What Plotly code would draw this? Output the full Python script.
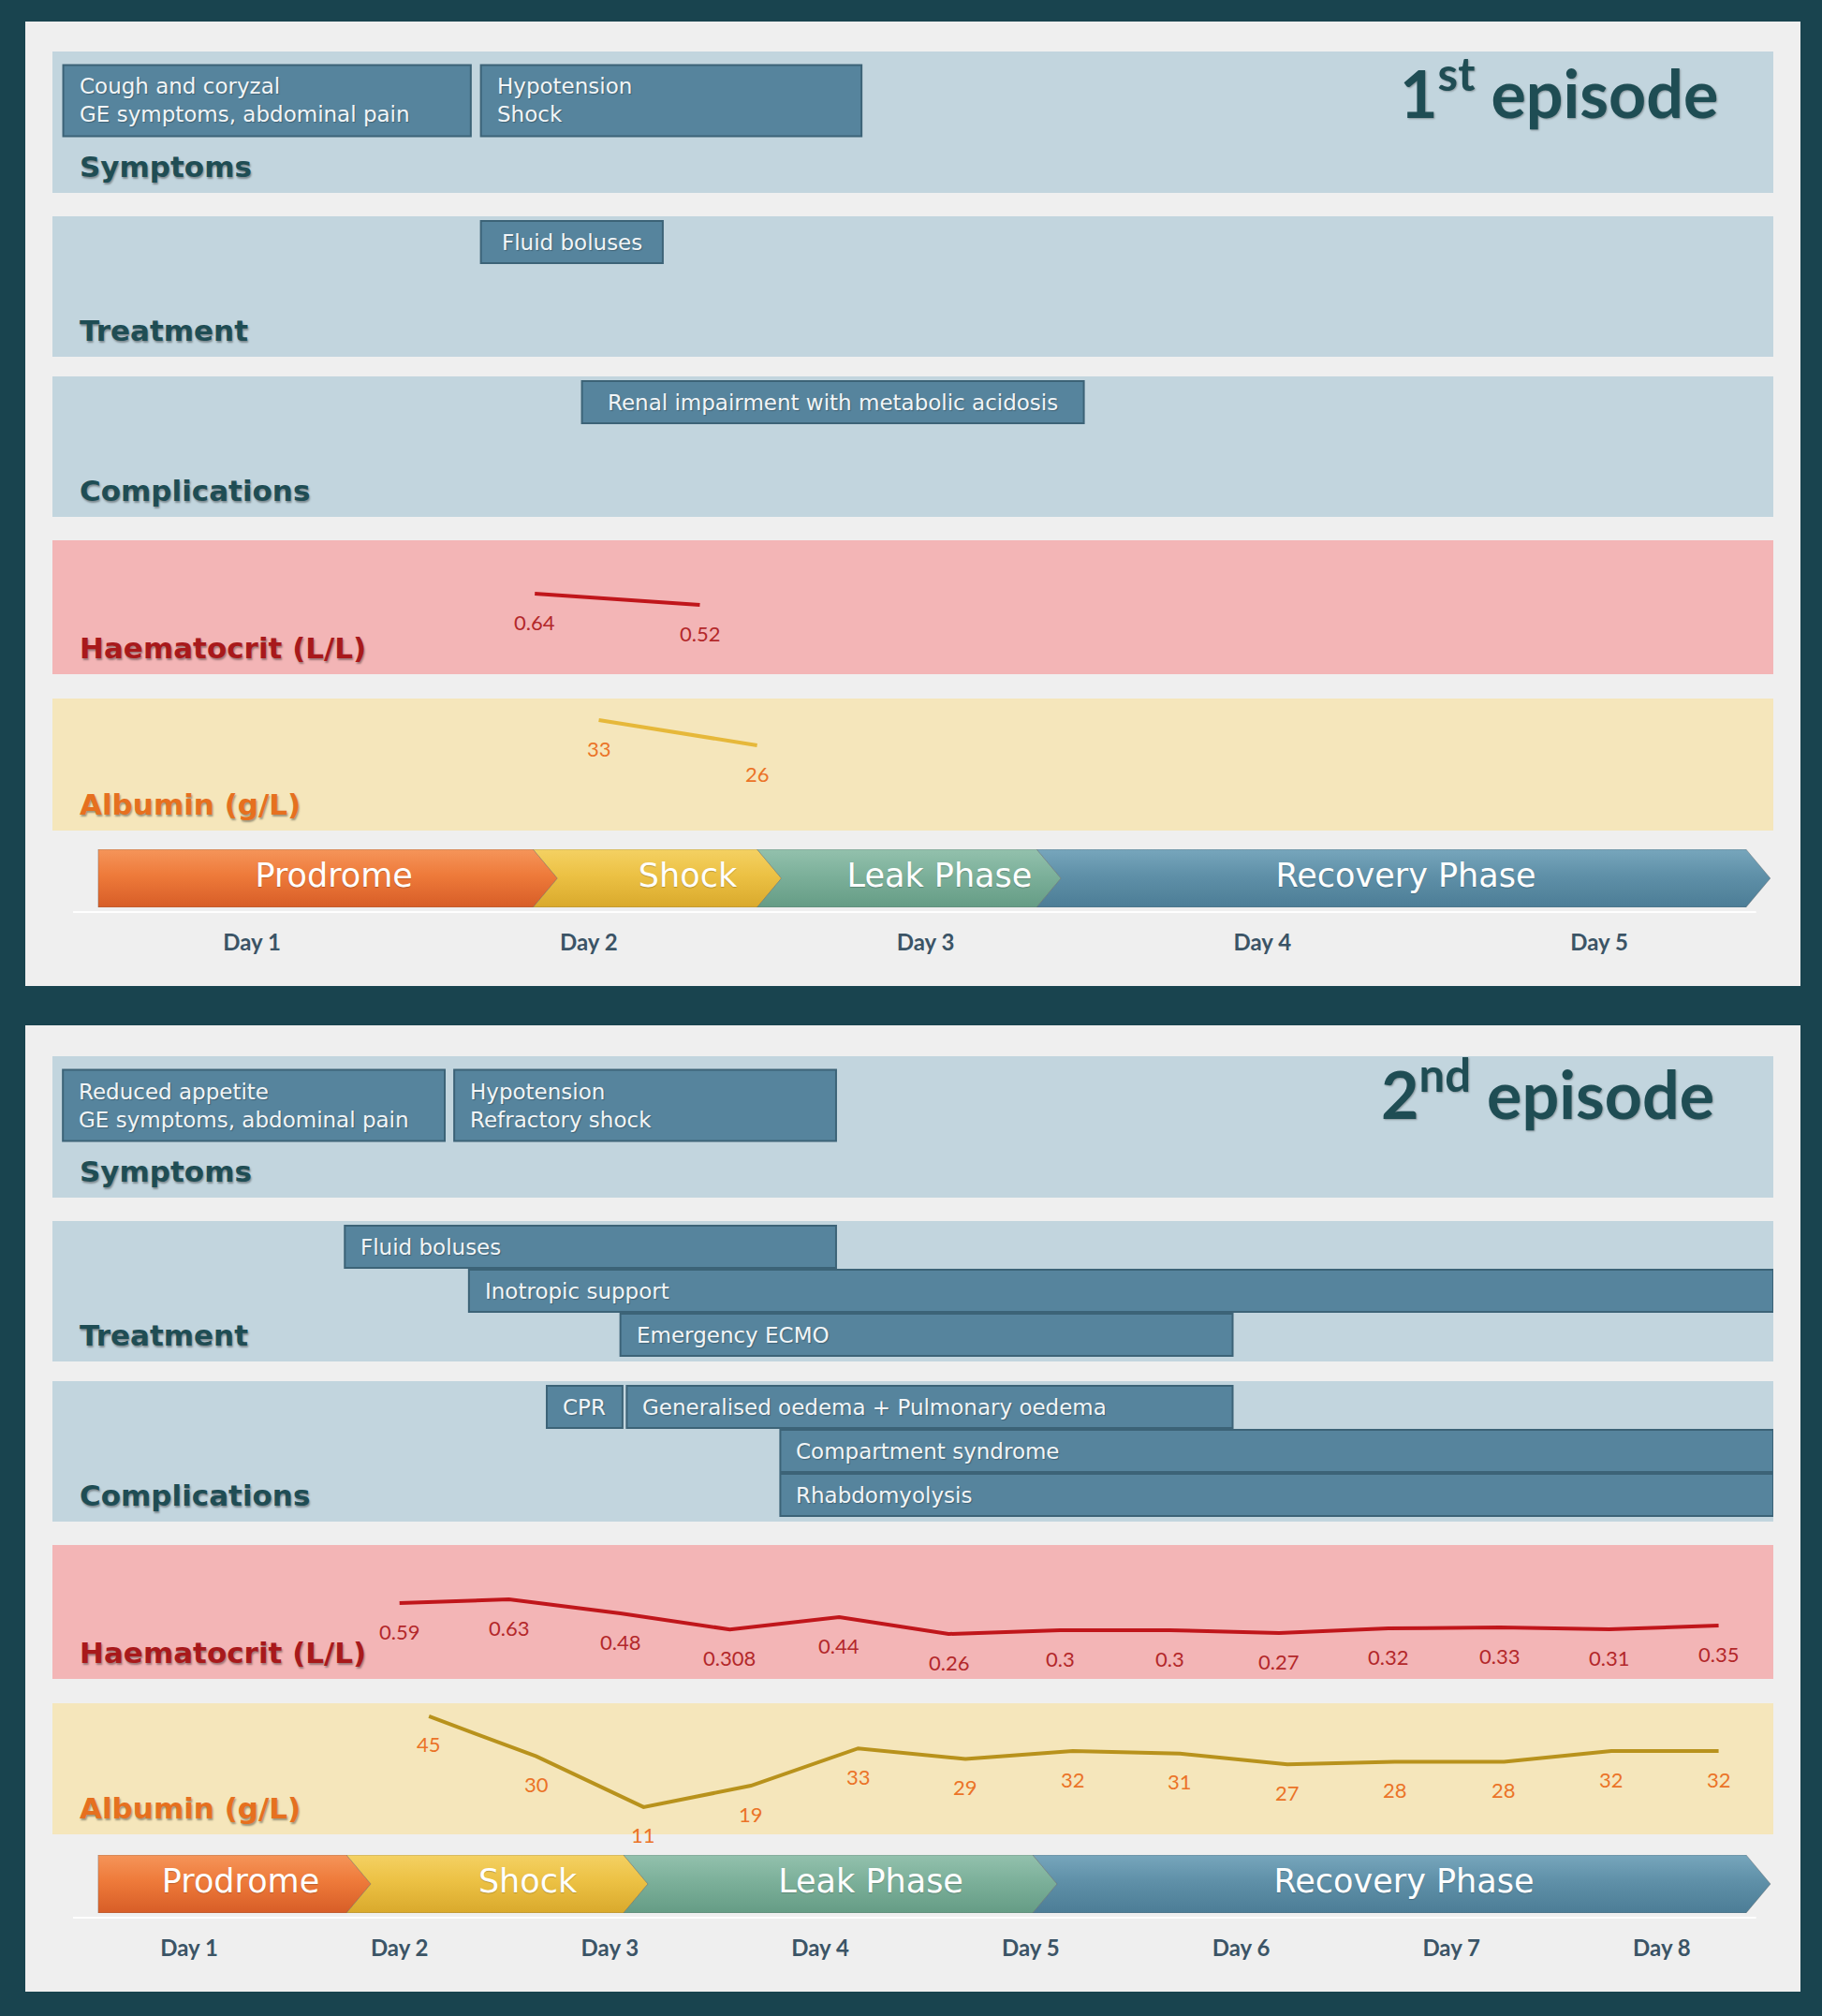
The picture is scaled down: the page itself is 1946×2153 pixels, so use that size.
import plotly.graph_objects as go

W, H = 1946, 2153

# ===================== DATA =====================
EP1_DAY_TICKS = [1, 2, 3, 4, 5]
EP1_DAY_LABELS = ["Day 1", "Day 2", "Day 3", "Day 4", "Day 5"]
EP2_DAY_TICKS = [1, 2, 3, 4, 5, 6, 7, 8]
EP2_DAY_LABELS = ["Day 1", "Day 2", "Day 3", "Day 4", "Day 5", "Day 6", "Day 7", "Day 8"]

EP1_SYMPTOMS = ["Cough and coryzal<br>GE symptoms, abdominal pain", "Hypotension<br>Shock"]
EP1_SYMPTOM_START = [0.44, 1.68]
EP1_SYMPTOM_END = [1.65, 2.81]

EP1_TREATMENTS = ["Fluid boluses"]
EP1_TREATMENT_START = [1.68]
EP1_TREATMENT_END = [2.22]
EP1_TREATMENT_ROW = [0]

EP1_COMPLICATIONS = ["Renal impairment with metabolic acidosis"]
EP1_COMPLICATION_START = [1.98]
EP1_COMPLICATION_END = [3.47]
EP1_COMPLICATION_ROW = [0]

EP1_HCT_DAY = [1.84, 2.33]
EP1_HCT = [0.64, 0.52]
EP1_ALB_DAY = [2.03, 2.50]
EP1_ALB = [33, 26]

EP1_PHASES = ["Prodrome", "Shock", "Leak Phase", "Recovery Phase"]
EP1_PHASE_START = [0.544, 1.835, 2.50, 3.33]
EP1_PHASE_END = [1.835, 2.50, 3.33, 5.436]

EP2_SYMPTOMS = ["Reduced appetite<br>GE symptoms, abdominal pain", "Hypotension<br>Refractory shock"]
EP2_SYMPTOM_START = [0.40, 2.26]
EP2_SYMPTOM_END = [2.215, 4.075]

EP2_TREATMENTS = ["Fluid boluses", "Inotropic support", "Emergency ECMO"]
EP2_TREATMENT_START = [1.74, 2.33, 3.05]
EP2_TREATMENT_END = [4.075, 8.53, 5.96]
EP2_TREATMENT_ROW = [0, 1, 2]

EP2_COMPLICATIONS = ["CPR", "Generalised oedema + Pulmonary oedema", "Compartment syndrome", "Rhabdomyolysis"]
EP2_COMPLICATION_START = [2.70, 3.08, 3.81, 3.81]
EP2_COMPLICATION_END = [3.06, 5.96, 8.53, 8.53]
EP2_COMPLICATION_ROW = [0, 0, 1, 2]

EP2_HCT_DAY = [2.00, 2.52, 3.05, 3.57, 4.09, 4.61, 5.14, 5.66, 6.18, 6.70, 7.23, 7.75, 8.27]
EP2_HCT = [0.59, 0.63, 0.48, 0.308, 0.44, 0.26, 0.30, 0.30, 0.27, 0.32, 0.33, 0.31, 0.35]
EP2_ALB_DAY = [2.14, 2.65, 3.16, 3.67, 4.18, 4.69, 5.20, 5.71, 6.22, 6.73, 7.25, 7.76, 8.27]
EP2_ALB = [45, 30, 11, 19, 33, 29, 32, 31, 27, 28, 28, 32, 32]

EP2_PHASES = ["Prodrome", "Shock", "Leak Phase", "Recovery Phase"]
EP2_PHASE_START = [0.568, 1.748, 3.065, 5.010]
EP2_PHASE_END = [1.748, 3.065, 5.010, 8.401]

BAND_LABELS = ["Symptoms", "Treatment", "Complications", "Haematocrit (L/L)", "Albumin (g/L)"]

# ===================== STYLE / LAYOUT =====================
FONT = "Lato"
WIDE = "DejaVu Sans"
BG = "#19444f"
PANEL = "#efefef"
BAND_BLUE = "#c2d5de"
BAND_PINK = "#f3b5b6"
BAND_YELLOW = "#f5e6bb"
BOX_FILL = "#56849d"
BOX_LINE = "#3c6377"
BOX_TEXT = "#f1f5f7"
TEAL_TEXT = "#1f4d54"
HCT_LINE = "#c0161b"
HCT_TEXT = "#b3282a"
ALB_TEXT = "#eb7327"
LABEL_SHADOW = "1px 2px 2px rgba(0,0,0,0.35)"
PHASE_COLORS = [
    [[0, "#d75d27"], [0.55, "#ee7a3a"], [1, "#f5955a"]],
    [[0, "#d9a92c"], [0.55, "#ecc144"], [1, "#f4d163"]],
    [[0, "#659c85"], [0.55, "#7cb09a"], [1, "#93c1ad"]],
    [[0, "#4c7d96"], [0.55, "#5f90a8"], [1, "#77a6bc"]],
]
PHASE_LABEL_SHIFT_PX = [0, 26, 26, -4]
TIP_PX = 26
TITLE_SIZE = 70

EPISODES = [
    dict(
        title="1<sup>st</sup> episode", title_x=1837, title_base=126,
        panel=(23, 1053), bands=[(55, 206), (231, 381), (402, 552), (577, 720), (746, 887)],
        arrow=(907, 969), day1=269, dayw=359.75,
        ticks=EP1_DAY_TICKS, ticklabels=EP1_DAY_LABELS,
        sym=(EP1_SYMPTOMS, EP1_SYMPTOM_START, EP1_SYMPTOM_END),
        treat=(EP1_TREATMENTS, EP1_TREATMENT_START, EP1_TREATMENT_END, EP1_TREATMENT_ROW),
        comp=(EP1_COMPLICATIONS, EP1_COMPLICATION_START, EP1_COMPLICATION_END, EP1_COMPLICATION_ROW),
        treat_align=["center"], comp_align=["center"],
        hct=(EP1_HCT_DAY, EP1_HCT), alb=(EP1_ALB_DAY, EP1_ALB),
        hct_range=[-0.22, 1.21], alb_range=[2.43, 38.96], alb_color="#e6b83a",
        phases=(EP1_PHASES, EP1_PHASE_START, EP1_PHASE_END),
    ),
    dict(
        title="2<sup>nd</sup> episode", title_x=1833, title_base=1195,
        panel=(1095, 2127), bands=[(1128, 1279), (1304, 1454), (1475, 1625), (1650, 1793), (1819, 1959)],
        arrow=(1981, 2043), day1=202, dayw=224.7,
        ticks=EP2_DAY_TICKS, ticklabels=EP2_DAY_LABELS,
        sym=(EP2_SYMPTOMS, EP2_SYMPTOM_START, EP2_SYMPTOM_END),
        treat=(EP2_TREATMENTS, EP2_TREATMENT_START, EP2_TREATMENT_END, EP2_TREATMENT_ROW),
        comp=(EP2_COMPLICATIONS, EP2_COMPLICATION_START, EP2_COMPLICATION_END, EP2_COMPLICATION_ROW),
        treat_align=["left", "left", "left"], comp_align=["center", "left", "left", "left"],
        hct=(EP2_HCT_DAY, EP2_HCT), alb=(EP2_ALB_DAY, EP2_ALB),
        hct_range=[-0.22, 1.21], alb_range=[0.77, 49.9], alb_color="#b8921c",
        phases=(EP2_PHASES, EP2_PHASE_START, EP2_PHASE_END),
    ),
]

BAND_L, BAND_R = 56, 1894


def ydom(top, bot):
    return [1 - bot / H, 1 - top / H]


fig = go.Figure()
shapes, annotations, axes = [], [], {}

for e, ep in enumerate(EPISODES):
    xname = "x" if e == 0 else "x2"
    xlay = "xaxis" if e == 0 else "xaxis2"
    ids = [e * 6 + j + 1 for j in range(6)]
    yn = ["y" if k == 1 else f"y{k}" for k in ids]
    yl = ["yaxis" if k == 1 else f"yaxis{k}" for k in ids]

    # panel
    p0, p1 = ep["panel"]
    shapes.append(dict(type="rect", xref="paper", yref="paper", x0=27 / W, x1=1923 / W,
                       y0=1 - p1 / H, y1=1 - p0 / H, fillcolor=PANEL, line=dict(width=0), layer="below"))

    xr = [1 + (BAND_L - ep["day1"]) / ep["dayw"], 1 + (BAND_R - ep["day1"]) / ep["dayw"]]
    axes[xlay] = dict(domain=[BAND_L / W, BAND_R / W], range=xr, anchor=yn[5],
                      showgrid=False, zeroline=False, showline=False, ticks="",
                      tickmode="array", tickvals=ep["ticks"], ticktext=ep["ticklabels"],
                      tickfont=dict(family=FONT, size=24, color="#3b5466", weight="bold"),
                      ticklabelstandoff=21, fixedrange=True)

    # band axes
    band_fill = [BAND_BLUE, BAND_BLUE, BAND_BLUE, BAND_PINK, BAND_YELLOW]
    for j, (t, b) in enumerate(ep["bands"]):
        h = b - t
        if j == 0:
            unit, off = 80.0, 52.5
            rng = [(h - off) / unit, -off / unit]
        elif j in (1, 2):
            unit, off = 47.0, 27.5
            rng = [(h - off) / unit, -off / unit]
        elif j == 3:
            rng = ep["hct_range"]
        else:
            rng = ep["alb_range"]
        axes[yl[j]] = dict(domain=ydom(t, b), range=rng, anchor=xname, visible=False, fixedrange=True)
        shapes.append(dict(type="rect", xref=f"{xname} domain", yref=f"{yn[j]} domain",
                           x0=0, x1=1, y0=0, y1=1, fillcolor=band_fill[j], line=dict(width=0), layer="below"))
        lab_color = TEAL_TEXT
        if j == 3:
            lab_color = "#a8191b"
        if j == 4:
            lab_color = "#e6701f"
        annotations.append(dict(text=BAND_LABELS[j], xref="paper", yref=f"{yn[j]} domain",
                                x=83 / W, y=0, xanchor="left", yanchor="bottom", yshift=8,
                                showarrow=False,
                                font=dict(family=WIDE, size=31, color=lab_color, weight="bold",
                                          shadow=LABEL_SHADOW)))

    # phase axis
    a0, a1 = ep["arrow"]
    axes[yl[5]] = dict(domain=ydom(a0, a1), range=[0, 1], anchor=xname, visible=False, fixedrange=True)
    # faint reflection line under the phase arrow
    shapes.append(dict(type="line", xref=f"{xname} domain", yref="paper", x0=0.012, x1=0.99,
                       y0=1 - (a1 + 5) / H, y1=1 - (a1 + 5) / H,
                       line=dict(color="rgba(255,255,255,0.9)", width=2), layer="below"))

    # boxes
    def add_boxes(texts, starts, ends, rows, yname, width, aligns, fsize):
        fig.add_trace(go.Bar(orientation="h", base=starts, x=[b - a for a, b in zip(starts, ends)],
                             y=rows, width=width, xaxis=xname, yaxis=yname,
                             marker=dict(color=BOX_FILL, line=dict(color=BOX_LINE, width=2)),
                             hoverinfo="skip", showlegend=False))
        for txt, a, b, r, al in zip(texts, starts, ends, rows, aligns):
            fnt = dict(family=WIDE, size=fsize, color=BOX_TEXT, shadow="1px 1px 1px rgba(0,0,0,0.25)")
            if al == "center":
                annotations.append(dict(text=txt, x=(a + b) / 2, y=r, xref=xname, yref=yname,
                                        xanchor="center", showarrow=False, align="center", font=fnt))
            else:
                annotations.append(dict(text=txt, x=a, y=r, xref=xname, yref=yname,
                                        xanchor="left", xshift=15, showarrow=False, align="left",
                                        font=fnt))

    st, ss, se = ep["sym"]
    add_boxes(st, ss, se, [0] * len(st), yn[0], 0.95, ["left"] * len(st), 23)
    tt, ts, te, tr = ep["treat"]
    add_boxes(tt, ts, te, tr, yn[1], 0.96, ep["treat_align"], 23)
    ct, cs, ce, cr = ep["comp"]
    add_boxes(ct, cs, ce, cr, yn[2], 0.96, ep["comp_align"], 23)

    # lab lines
    hx, hy = ep["hct"]
    fig.add_trace(go.Scatter(x=hx, y=hy, mode="lines", xaxis=xname, yaxis=yn[3],
                             line=dict(color=HCT_LINE, width=4), hoverinfo="skip", showlegend=False))
    for xv, yv in zip(hx, hy):
        annotations.append(dict(text=f"{yv:g}", x=xv, y=yv, xref=xname, yref=yn[3], yshift=-30,
                                showarrow=False, font=dict(family=FONT, size=22, color=HCT_TEXT)))
    ax_, ay_ = ep["alb"]
    fig.add_trace(go.Scatter(x=ax_, y=ay_, mode="lines", xaxis=xname, yaxis=yn[4],
                             line=dict(color=ep["alb_color"], width=4), hoverinfo="skip", showlegend=False))
    for xv, yv in zip(ax_, ay_):
        annotations.append(dict(text=f"{yv:g}", x=xv, y=yv, xref=xname, yref=yn[4], yshift=-30,
                                showarrow=False, font=dict(family=FONT, size=22, color=ALB_TEXT)))

    # phase chevrons
    names, ps, pe = ep["phases"]
    t = TIP_PX / ep["dayw"]
    for i, (nm, a, b) in enumerate(zip(names, ps, pe)):
        if i == 0:
            px = [a, b, b + t, b, a, a]
            py = [1, 1, 0.5, 0, 0, 1]
        else:
            px = [a, b, b + t, b, a, a + t, a]
            py = [1, 1, 0.5, 0, 0, 0.5, 1]
        fig.add_trace(go.Scatter(x=px, y=py, mode="lines", fill="toself", xaxis=xname, yaxis=yn[5],
                                 line=dict(color="rgba(90,90,90,0.35)", width=1),
                                 fillgradient=dict(type="vertical", colorscale=PHASE_COLORS[i]),
                                 hoverinfo="skip", showlegend=False))
        cx = (a + b) / 2 + 0.75 * t + PHASE_LABEL_SHIFT_PX[i] / ep["dayw"]
        fig.add_trace(go.Scatter(x=[cx], y=[0.5], mode="text", text=[nm],
                                 xaxis=xname, yaxis=yn[5],
                                 textfont=dict(family=WIDE, size=35, color="white",
                                               shadow="0px 1px 1px rgba(0,0,0,0.2)"),
                                 hoverinfo="skip", showlegend=False))

    # title
    annotations.append(dict(text=ep["title"], xref="paper", yref="paper", x=ep["title_x"] / W,
                            y=1 - (ep["title_base"] + 0.24 * TITLE_SIZE) / H, xanchor="right",
                            yanchor="bottom", showarrow=False,
                            font=dict(family=FONT, size=TITLE_SIZE, color=TEAL_TEXT, weight="bold",
                                      shadow="1px 1px 2px rgba(0,0,0,0.3)")))

fig.update_layout(width=W, height=H, margin=dict(l=0, r=0, t=0, b=0),
                  paper_bgcolor=BG, plot_bgcolor="rgba(0,0,0,0)", barmode="overlay",
                  showlegend=False, shapes=shapes, annotations=annotations, **axes)

fig.write_html("out.html", config={"displayModeBar": False},
               post_script="document.body.style.margin='0px';document.body.style.backgroundColor='#19444f';")
